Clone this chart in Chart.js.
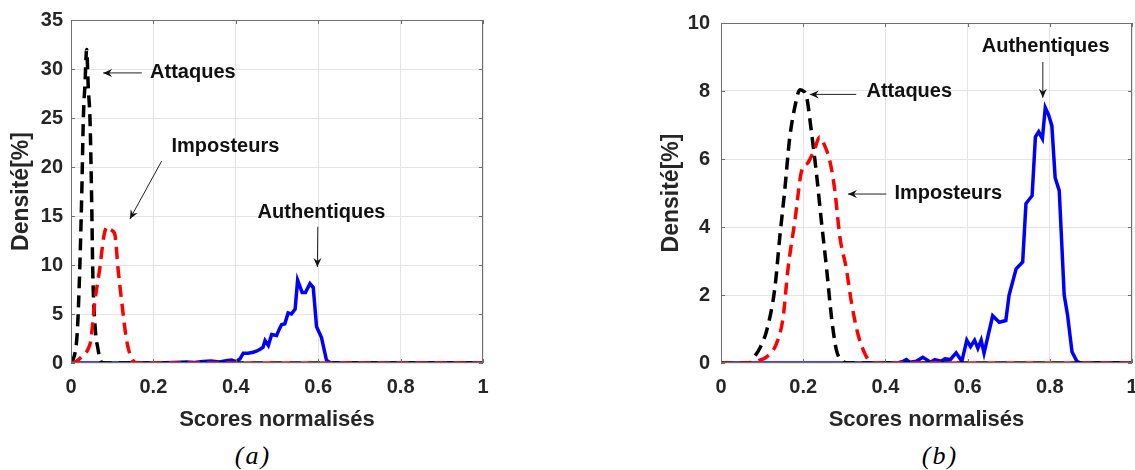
<!DOCTYPE html>
<html>
<head>
<meta charset="utf-8">
<script src="https://cdn.jsdelivr.net/npm/chart.js@4/dist/chart.umd.min.js"></script>
<style>
  body { margin: 0; background: #fff; width: 1135px; height: 470px; position: relative; overflow: hidden; }
  .wrap { position: absolute; top: 0; height: 440px; }
  #wa { left: 0; width: 500px; }
  #wb { left: 650px; width: 490px; }
  .cap { position: absolute; top: 443px; font: italic 26px "Liberation Serif", serif; line-height: 1; letter-spacing: 2px; color: #000; transform: translateX(-50%); }
</style>
</head>
<body>
<div class="wrap" id="wa"><canvas id="ca"></canvas></div>
<div class="wrap" id="wb"><canvas id="cb"></canvas></div>
<div class="cap" style="left:253px">(a)</div>
<div class="cap" style="left:940px">(b)</div>
<script>
// (a) - scores / densities
const attaquesAX = [0, 0.005, 0.015, 0.02, 0.026, 0.03, 0.034, 0.038, 0.042, 0.046, 0.05, 0.053, 0.058, 0.066, 0.072, 0.08, 1];
const attaquesAY = [0, 0.3, 3, 8, 17, 25, 28.5, 32, 28, 25, 17, 9, 4, 1.3, 0.2, 0, 0];
const imposteursAX = [0, 0.01, 0.02, 0.03, 0.04, 0.048, 0.058, 0.07, 0.08, 0.088, 0.093, 0.1, 0.107, 0.114, 0.123, 0.135, 0.147, 0.16, 1];
const imposteursAY = [0, 0.1, 0.4, 0.8, 1.3, 2.3, 6.3, 9.7, 13, 13.9, 13.7, 13.5, 13, 9.7, 6.3, 2.3, 0.5, 0, 0];
const authAX = [0, 0.1, 0.2, 0.25, 0.28, 0.3, 0.32, 0.34, 0.36, 0.38, 0.39, 0.4, 0.41, 0.418, 0.43, 0.442, 0.45, 0.459, 0.466, 0.471, 0.479, 0.487, 0.499, 0.505, 0.511, 0.519, 0.527, 0.535, 0.544, 0.55, 0.561, 0.569, 0.58, 0.588, 0.596, 0.608, 0.62, 0.63, 0.7, 1];
const authAY = [0, 0, 0, 0.05, 0.1, 0.05, 0.15, 0.2, 0.1, 0.25, 0.3, 0.15, 0.4, 1.0, 1.0, 1.1, 1.2, 1.4, 1.6, 2.3, 1.8, 2.9, 2.8, 3.4, 3.9, 4.0, 5.1, 5.0, 5.5, 8.45, 7.2, 7.2, 8.1, 7.7, 3.7, 2.6, 0.3, 0, 0, 0];

// (b) - right plot
const attaquesBX = [0, 0.07, 0.078, 0.095, 0.111, 0.131, 0.143, 0.155, 0.167, 0.18, 0.192, 0.2, 0.208, 0.22, 0.232, 0.244, 0.257, 0.269, 0.281, 0.297, 0.31, 1];
const attaquesBY = [0, 0, 0.13, 0.45, 0.95, 2.2, 3.7, 5.07, 6.6, 7.55, 8.04, 8.0, 7.85, 6.8, 5.6, 4.2, 2.77, 1.33, 0.37, 0.05, 0, 0];
const imposteursBX = [0, 0.08, 0.087, 0.111, 0.135, 0.151, 0.163, 0.18, 0.196, 0.212, 0.228, 0.24, 0.252, 0.265, 0.277, 0.289, 0.305, 0.317, 0.333, 0.354, 0.37, 1];
const imposteursBY = [0, 0, 0.05, 0.18, 0.57, 1.33, 2.77, 4.2, 5.64, 5.9, 6.3, 6.65, 6.4, 5.93, 5.07, 3.73, 2.77, 1.81, 0.86, 0.18, 0, 0];
const authBX = [0, 0.43, 0.443, 0.451, 0.46, 0.475, 0.491, 0.5, 0.51, 0.52, 0.535, 0.545, 0.558, 0.572, 0.586, 0.598, 0.607, 0.617, 0.625, 0.633, 0.64, 0.661, 0.677, 0.693, 0.701, 0.718, 0.734, 0.742, 0.757, 0.765, 0.773, 0.782, 0.789, 0.797, 0.805, 0.813, 0.823, 0.835, 0.843, 0.854, 0.866, 0.875, 1];
const authBY = [0, 0, 0.05, 0.1, 0.02, 0.05, 0.17, 0.1, 0.02, 0.1, 0.05, 0.12, 0.1, 0.3, 0.05, 0.67, 0.48, 0.67, 0.43, 0.67, 0.29, 1.39, 1.2, 1.25, 2.0, 2.77, 2.97, 4.69, 4.92, 6.65, 6.8, 6.6, 7.51, 7.3, 6.98, 5.45, 5.07, 2.0, 1.43, 0.33, 0.05, 0, 0];

// annotation labels: text position, arrow tail, arrow tip (data coords)
const notesA = [
  { text: "Attaques", align: "left", at: [0.192, 29.6], from: [0.172, 29.6], to: [0.078, 29.6] },
  { text: "Imposteurs", align: "left", at: [0.244, 22.1], from: [0.22, 20.6], to: [0.143, 14.7] },
  { text: "Authentiques", align: "center", at: [0.608, 15.4], from: [0.599, 13.9], to: [0.598, 9.8] }
];
const notesB = [
  { text: "Attaques", align: "left", at: [0.354, 7.98], from: [0.329, 7.9], to: [0.216, 7.9] },
  { text: "Imposteurs", align: "left", at: [0.422, 4.98], from: [0.402, 4.97], to: [0.309, 4.97] },
  { text: "Authentiques", align: "center", at: [0.79, 9.3], from: [0.783, 8.85], to: [0.783, 7.8] }
];

const INK = "#262626";
const FONT = "Arial, 'Liberation Sans', sans-serif";

function points(xs, ys) {
  return xs.map((x, i) => ({ x, y: ys[i] }));
}

const frame = {
  id: "frame",
  afterDatasetsDraw(chart, args, opts) {
    const { ctx, chartArea: a, scales: { x, y } } = chart;
    ctx.save();
    // box + inward ticks, matlab style
    ctx.strokeStyle = "#6e6e6e";
    ctx.lineWidth = 1;
    ctx.strokeRect(a.left + 0.5, a.top + 0.5, a.right - a.left - 1, a.bottom - a.top - 1);
    ctx.beginPath();
    x.ticks.forEach(t => {
      const px = Math.round(x.getPixelForValue(t.value)) + 0.5;
      ctx.moveTo(px, a.bottom); ctx.lineTo(px, a.bottom - 4);
      ctx.moveTo(px, a.top); ctx.lineTo(px, a.top + 4);
    });
    y.ticks.forEach(t => {
      const py = Math.round(y.getPixelForValue(t.value)) + 0.5;
      ctx.moveTo(a.left, py); ctx.lineTo(a.left + 4, py);
      ctx.moveTo(a.right, py); ctx.lineTo(a.right - 4, py);
    });
    ctx.stroke();

    ctx.fillStyle = "#111";
    ctx.strokeStyle = "#222";
    ctx.font = "bold 20px " + FONT;
    ctx.textBaseline = "middle";
    for (const n of opts.notes) {
      ctx.textAlign = n.align;
      ctx.fillText(n.text, x.getPixelForValue(n.at[0]), y.getPixelForValue(n.at[1]));
      const x0 = x.getPixelForValue(n.from[0]), y0 = y.getPixelForValue(n.from[1]);
      const x1 = x.getPixelForValue(n.to[0]), y1 = y.getPixelForValue(n.to[1]);
      const ang = Math.atan2(y1 - y0, x1 - x0);
      ctx.beginPath();
      ctx.moveTo(x0, y0); ctx.lineTo(x1, y1);
      ctx.stroke();
      ctx.beginPath();
      ctx.moveTo(x1, y1);
      ctx.lineTo(x1 - 9 * Math.cos(ang) + 4 * Math.sin(ang), y1 - 9 * Math.sin(ang) - 4 * Math.cos(ang));
      ctx.lineTo(x1 - 6 * Math.cos(ang), y1 - 6 * Math.sin(ang));
      ctx.lineTo(x1 - 9 * Math.cos(ang) - 4 * Math.sin(ang), y1 - 9 * Math.sin(ang) + 4 * Math.cos(ang));
      ctx.closePath();
      ctx.fill();
    }
    ctx.restore();
  }
};

function makeChart(canvas, cfg) {
  return new Chart(canvas, {
    type: "line",
    data: {
      datasets: [
        {
          data: points(cfg.imp[0], cfg.imp[1]),
          borderColor: "#ff0000", borderWidth: 3.5, borderDash: [12, 7],
          pointRadius: 0, cubicInterpolationMode: "monotone", order: 1
        },
        {
          data: points(cfg.att[0], cfg.att[1]),
          borderColor: "#000000", borderWidth: 3.5, borderDash: [12, 7],
          pointRadius: 0, cubicInterpolationMode: "monotone", order: 2
        },
        {
          data: points(cfg.auth[0], cfg.auth[1]),
          borderColor: "#0000ff", borderWidth: 3.5,
          pointRadius: 0, tension: 0, order: 3
        }
      ]
    },
    options: {
      animation: false,
      responsive: true,
      maintainAspectRatio: false,
      layout: { padding: { top: 15, right: cfg.padRight, left: 0, bottom: 0 } },
      scales: {
        x: {
          type: "linear", min: 0, max: 1,
          afterFit(s) { s.height = 77; },
          grid: { color: "#e4e4e4", drawTicks: true, tickLength: 12, tickColor: "rgba(0,0,0,0)" },
          border: { display: false },
          ticks: {
            stepSize: 0.2, padding: 0, maxRotation: 0, color: INK,
            font: { family: FONT, size: 20, weight: "bold" },
            callback: v => String(Math.round(v * 10) / 10)
          },
          title: {
            display: true, text: "Scores normalisés", color: INK,
            font: { family: FONT, size: 22, weight: "bold" },
            padding: { top: 0, bottom: 7 }
          }
        },
        y: {
          min: 0, max: cfg.yMax,
          afterFit(s) { s.width = 71; },
          grid: { color: "#e4e4e4", drawTicks: false },
          border: { display: false },
          ticks: {
            stepSize: cfg.yStep, padding: cfg.yPad, color: INK,
            font: { family: FONT, size: 20, weight: "bold" }
          },
          title: {
            display: true, text: "Densité[%]", color: INK,
            font: { family: FONT, size: 23, weight: "bold" },
            padding: { top: 8, bottom: 0 }
          }
        }
      },
      plugins: {
        legend: { display: false },
        tooltip: { enabled: false },
        frame: { notes: cfg.notes }
      }
    },
    plugins: [frame]
  });
}

makeChart(document.getElementById("ca"), {
  att: [attaquesAX, attaquesAY],
  imp: [imposteursAX, imposteursAY],
  auth: [authAX, authAY],
  yMax: 35, yStep: 5, yPad: 8, padRight: 17, notes: notesA
});

makeChart(document.getElementById("cb"), {
  att: [attaquesBX, attaquesBY],
  imp: [imposteursBX, imposteursBY],
  auth: [authBX, authBY],
  yMax: 10, yStep: 2, yPad: 11, padRight: 8, notes: notesB
});
</script>
</body>
</html>
